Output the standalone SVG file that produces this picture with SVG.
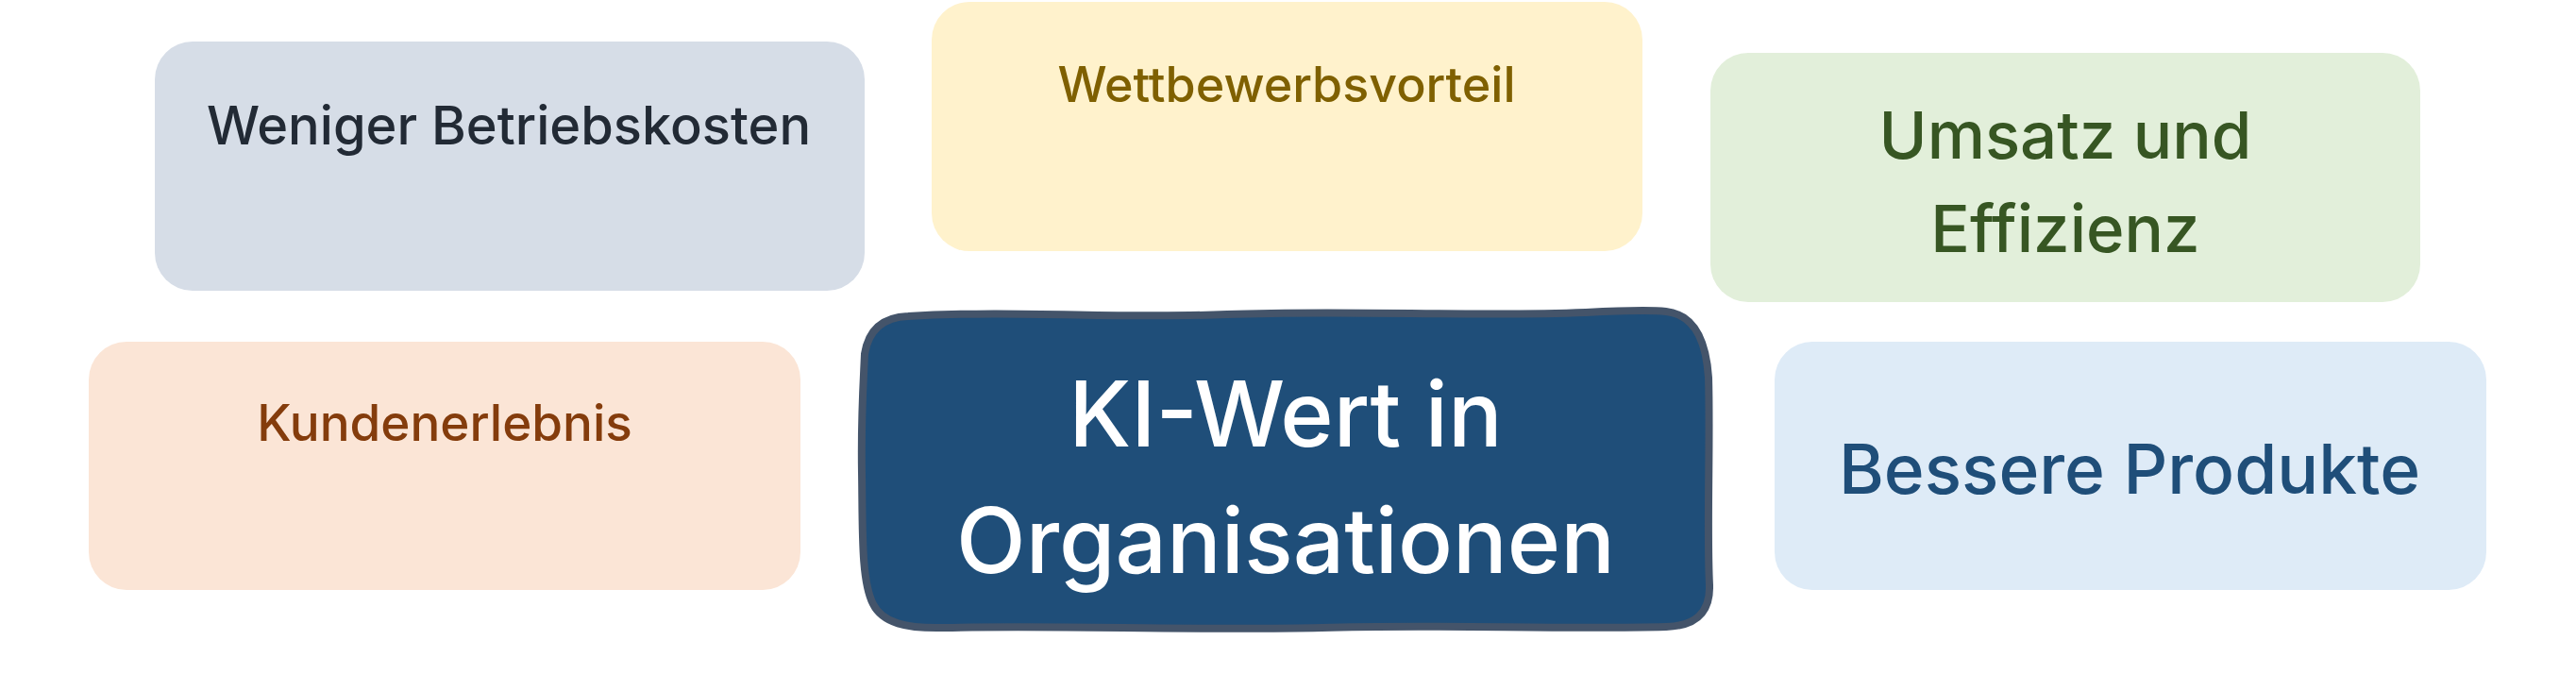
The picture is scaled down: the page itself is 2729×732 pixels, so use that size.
<svg xmlns="http://www.w3.org/2000/svg" width="2729" height="732" viewBox="0 0 2729 732">
<style>
  text { font-family: Inter, Roboto, "Liberation Sans", sans-serif; font-weight: 500; text-anchor: middle; }
</style>
<rect width="2729" height="732" fill="#ffffff"/>
<g id="connectors"></g>
<g id="node-betriebskosten">
  <rect x="164" y="44" width="752" height="264" rx="40" fill="#d6dde7"/>
  <text x="539" y="153" font-size="56" fill="#222a35">Weniger Betriebskosten</text>
</g>
<g id="node-wettbewerb">
  <rect x="987" y="2" width="753" height="264" rx="40" fill="#fff2cc"/>
  <text x="1363" y="108" font-size="52" fill="#7f6000">Wettbewerbsvorteil</text>
</g>
<g id="node-umsatz">
  <rect x="1812" y="56" width="752" height="264" rx="40" fill="#e2efda"/>
  <text x="2188" y="168" font-size="69" fill="#375623">Umsatz und</text>
  <text x="2188" y="267" font-size="69" fill="#375623">Effizienz</text>
</g>
<g id="node-kunden">
  <rect x="94" y="362" width="754" height="263" rx="40" fill="#fbe5d6"/>
  <text x="471" y="467" font-size="53" fill="#843c0c">Kundenerlebnis</text>
</g>
<g id="node-produkte">
  <rect x="1880" y="362" width="754" height="263" rx="40" fill="#deebf7"/>
  <text x="2256" y="523" font-size="73" fill="#1f4e79">Bessere Produkte</text>
</g>
<g id="node-center">
  <path d="M 962,335 C 1080,328 1180,338 1300,333 C 1430,328 1560,336 1680,331 C 1720,329 1745,328 1765,330 C 1800,334 1808,370 1810,400 C 1812,470 1808,560 1811,620 C 1812,650 1795,663 1765,664 C 1650,667 1520,661 1400,665 C 1260,668 1120,662 1000,665 C 960,666 935,660 925,640 C 912,615 914,560 913,500 C 912,440 915,400 916,375 C 920,350 935,336 962,335 Z" fill="#1f4e79" stroke="#44546a" stroke-width="8" stroke-linejoin="round"/>
  <text x="1362" y="473" font-size="96" fill="#ffffff">KI-Wert in</text>
  <text x="1362" y="607" font-size="96" fill="#ffffff">Organisationen</text>
</g>
</svg>
